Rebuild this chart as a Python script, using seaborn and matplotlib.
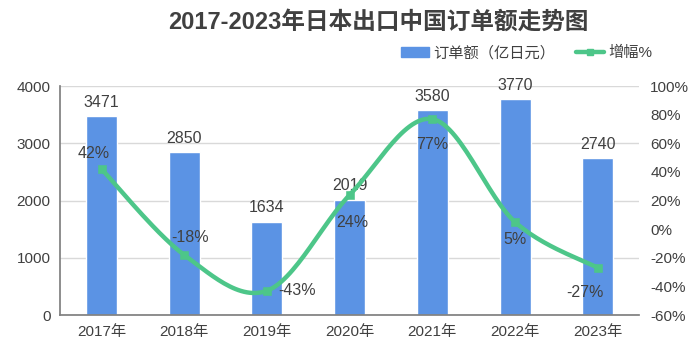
import numpy as np
import pandas as pd
import matplotlib
matplotlib.use("Agg")
import matplotlib.pyplot as plt
import seaborn as sns
from matplotlib.lines import Line2D
from matplotlib.patches import Patch

# data
years = ["2017年", "2018年", "2019年", "2020年", "2021年", "2022年", "2023年"]
orders = [3471, 2850, 1634, 2019, 3580, 3770, 2740]
growth = [42, -18, -43, 24, 77, 5, -27]

bar_color = "#5B93E4"
line_color = "#4DC689"
text_color = "#404040"
fonts = ["Liberation Sans", "Noto Sans CJK SC", "DejaVu Sans"]

sns.set_theme(style="white")
plt.rcParams["font.family"] = fonts

df = pd.DataFrame({"year": years, "orders": orders, "growth": growth})

fig = plt.figure(figsize=(7, 3.56), dpi=100)
ax = fig.add_axes([0.086, 0.115, 0.827, 0.643])

sns.barplot(data=df, x="year", y="orders", color=bar_color, width=0.375,
            saturation=1, ax=ax)
ax.set_ylim(0, 4000)
ax.set_yticks([0, 1000, 2000, 3000, 4000])
ax.yaxis.grid(True, color="#D9D9D9", linewidth=1)
ax.set_axisbelow(True)
ax.set_xlabel("")
ax.set_ylabel("")
for s in ["top", "right"]:
    ax.spines[s].set_visible(False)
ax.spines["left"].set_color("#808080")
ax.spines["bottom"].set_color("#808080")
ax.tick_params(axis="y", colors=text_color, labelsize=11, length=0, pad=7)
ax.tick_params(axis="x", colors=text_color, labelsize=11, length=0, pad=7)
ax.set_xlim(-0.5, len(years) - 0.5)

for i, v in enumerate(orders):
    ax.text(i, v + 110, str(v), ha="center", va="bottom", fontsize=11.5,
            color=text_color)

# smoothed line, drawn like Excel's smooth line
ax2 = ax.twinx()
ax2.set_ylim(-60, 100)
ax2.set_yticks(range(-60, 101, 20))
ax2.set_yticklabels([f"{t}%" for t in range(-60, 101, 20)])
ax2.tick_params(axis="y", colors=text_color, labelsize=11, length=0, pad=8)
for s in ax2.spines.values():
    s.set_visible(False)

xs = np.arange(len(growth), dtype=float)
ys = np.array(growth, dtype=float)
px = np.concatenate([[xs[0]], xs, [xs[-1]]])
py = np.concatenate([[ys[0]], ys, [ys[-1]]])
cx, cy = [], []
t = np.linspace(0, 1, 30)
for k in range(1, len(px) - 2):
    p0, p1, p2, p3 = (np.array([px[j], py[j]]) for j in range(k - 1, k + 3))
    b1 = p1 + (p2 - p0) / 6
    b2 = p2 - (p3 - p1) / 6
    seg = ((1 - t) ** 3)[:, None] * p1 + (3 * (1 - t) ** 2 * t)[:, None] * b1 \
        + (3 * (1 - t) * t ** 2)[:, None] * b2 + (t ** 3)[:, None] * p2
    cx.extend(seg[:, 0])
    cy.extend(seg[:, 1])
ax2.plot(cx, cy, color=line_color, linewidth=3.2, solid_capstyle="round")
sns.scatterplot(x=xs, y=ys, marker="s", s=28, color=line_color,
                edgecolor=line_color, ax=ax2, zorder=5)

offsets = [(-0.1, 11), (0.07, 12), (0.36, 0), (0.03, -19), (0, -18), (0, -12), (-0.15, -17)]
for i, v in enumerate(growth):
    dx, dy = offsets[i]
    ax2.text(i + dx, v + dy, f"{v}%", ha="center", va="center", fontsize=11.5,
             color=text_color)

fig.text(0.541, 0.938, "2017-2023年日本出口中国订单额走势图", ha="center", va="center",
         fontsize=17, fontweight="bold", color=text_color)

handles = [Patch(facecolor=bar_color, edgecolor=bar_color),
           Line2D([0], [0], color=line_color, lw=3.2, marker="s", markersize=5)]
fig.legend(handles, ["订单额（亿日元）", "增幅%"], loc="center right",
           bbox_to_anchor=(0.932, 0.851), ncol=2, frameon=False, fontsize=11,
           labelcolor=text_color, handlelength=1.85, handleheight=0.65,
           columnspacing=1.3, handletextpad=0.3, borderaxespad=0, borderpad=0)

fig.savefig("out.png", dpi=100)
